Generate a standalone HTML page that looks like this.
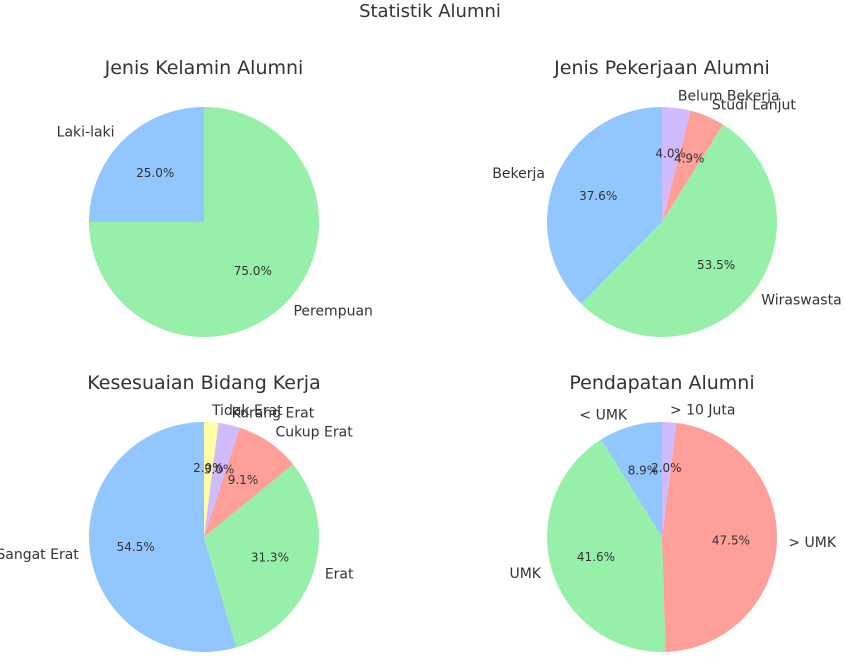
<!DOCTYPE html>
<html><head><meta charset="utf-8"><style>
html,body{margin:0;padding:0;background:#fff}
svg{display:block;font-family:"DejaVu Sans","Liberation Sans",sans-serif}
</style></head><body>
<svg id="fig" width="845" height="658" viewBox="0 0 845 658">
<text x="430" y="17" text-anchor="middle" font-size="18" fill="#333">Statistik Alumni</text>
</svg>
<script>
// Chart 1: Jenis Kelamin Alumni
const genderLabels = ["Laki-laki", "Perempuan"];
const genderValues = [25.0, 75.0];
// Chart 2: Jenis Pekerjaan Alumni
const jobLabels = ["Bekerja", "Wiraswasta", "Studi Lanjut", "Belum Bekerja"];
const jobValues = [37.6, 53.5, 4.9, 4.0];
// Chart 3: Kesesuaian Bidang Kerja
const fitLabels = ["Sangat Erat", "Erat", "Cukup Erat", "Kurang Erat", "Tidak Erat"];
const fitValues = [54.5, 31.3, 9.1, 3.0, 2.0];
// Chart 4: Pendapatan Alumni
const incomeLabels = ["< UMK", "UMK", "> UMK", "> 10 Juta"];
const incomeValues = [8.9, 41.6, 47.5, 2.0];

const COLORS = ["#92c6ff", "#97f0aa", "#ff9f9a", "#d0bbff", "#fffea3"];
const NS = "http://www.w3.org/2000/svg";
const svg = document.getElementById("fig");
function mk(tag, attrs){const e=document.createElementNS(NS,tag);for(const k in attrs)e.setAttribute(k,attrs[k]);return e;}

function drawPie(name, title, labels, values, cx, cy, r, titleY){
  const g = mk("g",{});
  
  
  svg.appendChild(g);
  const t = mk("text",{x:cx,y:titleY,"text-anchor":"middle","font-size":"19",fill:"#333"});
  
  
  t.textContent = title; g.appendChild(t);
  const total = values.reduce((a,b)=>a+b,0);
  let ang = 90;
  const texts = [];
  values.forEach((v,i)=>{
    const sweep = v/total*360;
    const a0 = ang*Math.PI/180, a1=(ang+sweep)*Math.PI/180;
    const x0=cx+r*Math.cos(a0), y0=cy-r*Math.sin(a0);
    const x1=cx+r*Math.cos(a1), y1=cy-r*Math.sin(a1);
    const large = sweep>180?1:0;
    const p = mk("path",{d:`M${cx},${cy} L${x0},${y0} A${r},${r} 0 ${large} 0 ${x1},${y1} Z`,fill:COLORS[i%COLORS.length]});
    
    
    g.appendChild(p);
    const mid = (ang+sweep/2)*Math.PI/180;
    const c = Math.cos(mid), s = Math.sin(mid);
    const lx = cx+1.1*r*c, ly = cy-1.1*r*s;
    const lt = mk("text",{x:lx,y:ly,"text-anchor":c>0?"start":"end","dominant-baseline":"central","font-size":"14",fill:"#333"});
    
    
    lt.textContent = labels[i]; texts.push(lt);
    const px = cx+0.6*r*c, py = cy-0.6*r*s;
    const pt = mk("text",{x:px,y:py,"text-anchor":"middle","dominant-baseline":"central","font-size":"12",fill:"#333"});
    
    
    pt.textContent = v.toFixed(1)+"%"; texts.push(pt);
    ang += sweep;
  });
  texts.forEach(e=>g.appendChild(e));
}
drawPie("gender-pie","Jenis Kelamin Alumni",genderLabels,genderValues,204,222,115,74);
drawPie("job-pie","Jenis Pekerjaan Alumni",jobLabels,jobValues,662,222,115,74);
drawPie("field-fit-pie","Kesesuaian Bidang Kerja",fitLabels,fitValues,204,537,115,389);
drawPie("income-pie","Pendapatan Alumni",incomeLabels,incomeValues,662,537,115,389);
</script>
</body></html>
